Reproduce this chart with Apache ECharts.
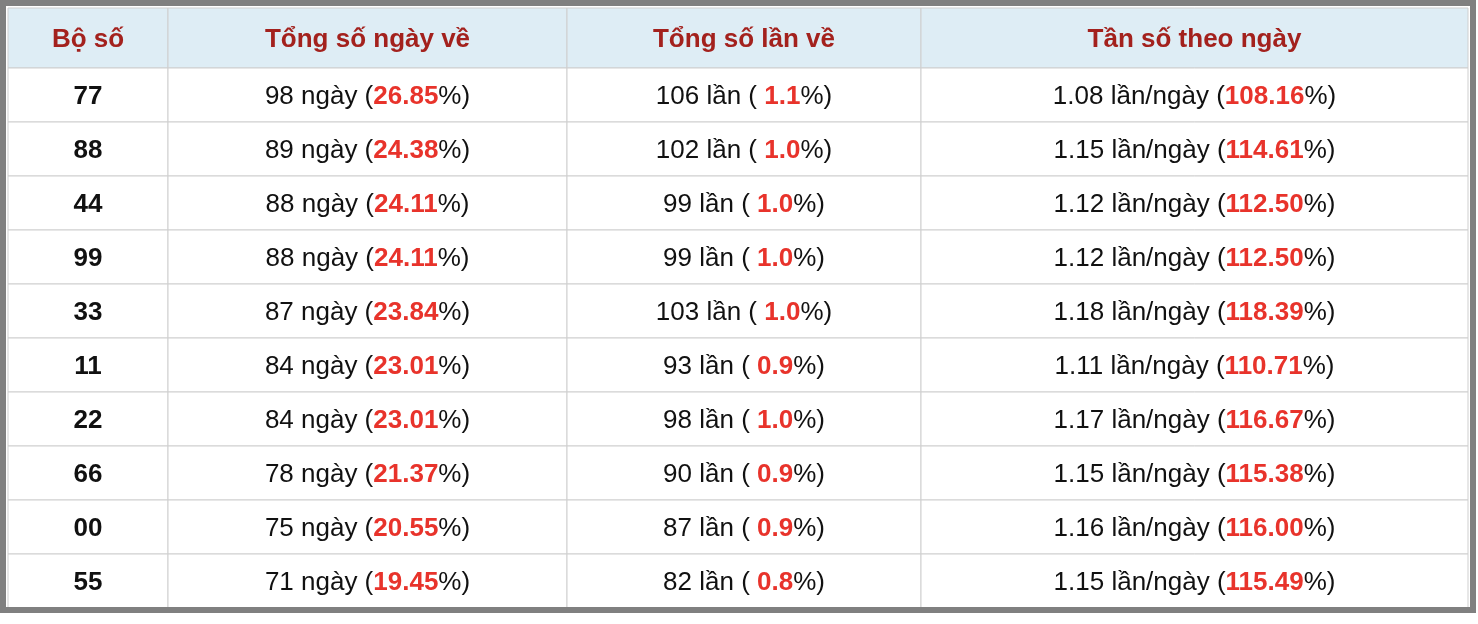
<!DOCTYPE html>
<html><head><meta charset="utf-8">
<script src="https://cdn.jsdelivr.net/npm/echarts@6/dist/echarts.min.js"></script>
<style>html,body{margin:0;padding:0;background:#fff}#c{width:1478px;height:624px}</style>
</head><body><div id="c"></div>
<script>
const headers = ["Bộ số", "Tổng số ngày về", "Tổng số lần về", "Tần số theo ngày"];
const boSo = ["77","88","44","99","33","11","22","66","00","55"];
const soNgay = [98,89,88,88,87,84,84,78,75,71];
const pctNgay = ["26.85","24.38","24.11","24.11","23.84","23.01","23.01","21.37","20.55","19.45"];
const soLan = [106,102,99,99,103,93,98,90,87,82];
const pctLan = ["1.1","1.0","1.0","1.0","1.0","0.9","1.0","0.9","0.9","0.8"];
const tanSo = ["1.08","1.15","1.12","1.12","1.18","1.11","1.17","1.15","1.16","1.15"];
const pctTanSo = ["108.16","114.61","112.50","112.50","118.39","110.71","116.67","115.38","116.00","115.49"];

const colEdges = [0,160,559,913,1460];
const headerH = 60, rowH = 54;
const cells = [];
headers.forEach((h,c)=>cells.push([c,-1,h]));
boSo.forEach((b,r)=>{
  cells.push([0,r,b]);
  cells.push([1,r,soNgay[r]+" ngày ({r|"+pctNgay[r]+"}%)"]);
  cells.push([2,r,soLan[r]+" lần ( {r|"+pctLan[r]+"}%)"]);
  cells.push([3,r,tanSo[r]+" lần/ngày ({r|"+pctTanSo[r]+"}%)"]);
});
const FF='Liberation Sans, Arial, sans-serif';
const chart = echarts.init(document.getElementById('c'));
chart.setOption({
  backgroundColor:'#fff',
  animation:false,
  grid:{left:8,top:8,width:1460,height:600},
  xAxis:{type:'value',min:0,max:1460,show:false},
  yAxis:{type:'value',min:0,max:600,inverse:true,show:false},
  graphic:[{type:'rect',shape:{x:3,y:3,width:1470,height:607},style:{fill:'none',stroke:'#808080',lineWidth:6},z:100}],
  series:[{
    type:'custom',
    data:cells,
    renderItem:(params,api)=>{
      const c=api.value(0), r=api.value(1), t=cells[params.dataIndex][2];
      const y0 = r<0?0:headerH+r*rowH, y1 = r<0?headerH:headerH+(r+1)*rowH;
      const p0=api.coord([colEdges[c],y0]), p1=api.coord([colEdges[c+1],y1]);
      const hdr=r<0;
      return {type:'group',children:[
        {type:'rect',shape:{x:p0[0],y:p0[1],width:p1[0]-p0[0],height:p1[1]-p0[1]},
         style:{fill:hdr?'#deedf5':'#fff',stroke:'#cfcfcf',lineWidth:1}},
        {type:'text',x:(p0[0]+p1[0])/2,y:(p0[1]+p1[1])/2+2,
         style:{text:t,align:'center',verticalAlign:'middle',
           fontFamily:FF,fontSize:26,
           fontWeight:(hdr||c===0)?'bold':'normal',
           fill:hdr?'#a3211d':'#111',
           rich:{r:{fill:'#e8332b',fontWeight:'bold',fontSize:26,fontFamily:FF}}}}
      ]};
    }
  }]
});
</script></body></html>
